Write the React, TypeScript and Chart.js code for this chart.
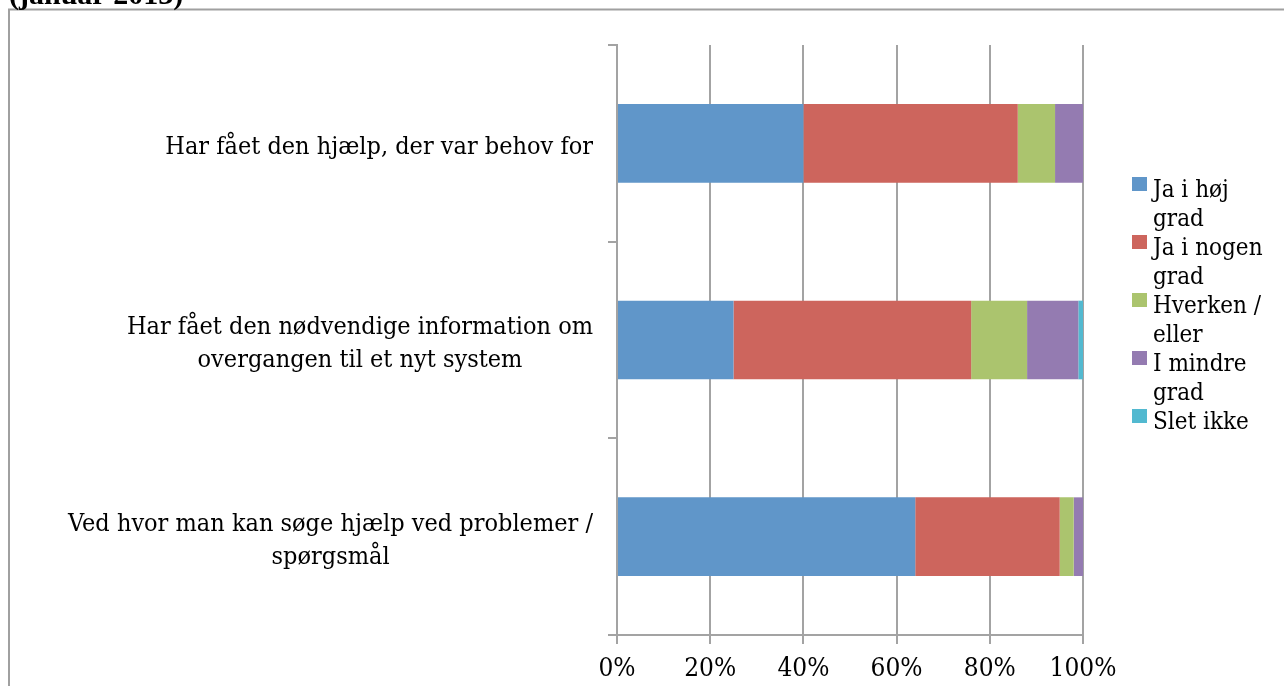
import React, { useEffect, useRef } from 'react';
import { Chart, registerables } from 'chart.js';

Chart.register(...registerables);

const titleText = '(januar 2013)';

const categories: string[][] = [
  ['Har fået den hjælp, der var behov for'],
  ['Har fået den nødvendige information om', 'overgangen til et nyt system'],
  ['Ved hvor man kan søge hjælp ved problemer /', 'spørgsmål'],
];

const seriesNames: string[][] = [
  ['Ja i høj', 'grad'],
  ['Ja i nogen', 'grad'],
  ['Hverken /', 'eller'],
  ['I mindre', 'grad'],
  ['Slet ikke'],
];

const jaIHoejGrad = [40, 25, 64];
const jaINogenGrad = [46, 51, 31];
const hverkenEller = [8, 12, 3];
const iMindreGrad = [6, 11, 2];
const sletIkke = [0, 1, 0];

const xTickLabels = ['0%', '20%', '40%', '60%', '80%', '100%'];

const seriesColors = ['#6096C9', '#CD655D', '#ABC46E', '#947BB1', '#52B9D0'];

const FONT = '"DejaVu Serif Condensed", "Liberation Serif", serif';
const TITLE_FONT = '"Liberation Serif", "Times New Roman", serif';
const GRID = '#a3a3a3';

export default function App() {
  const ref = useRef<HTMLCanvasElement | null>(null);

  useEffect(() => {
    if (!ref.current) return;
    const seriesValues = [jaIHoejGrad, jaINogenGrad, hverkenEller, iMindreGrad, sletIkke];

    const decorPlugin = {
      id: 'decor',
      beforeDraw(chart: any) {
        const ctx = chart.ctx;
        ctx.save();
        ctx.fillStyle = '#ffffff';
        ctx.fillRect(0, 0, chart.width, chart.height);
        ctx.strokeStyle = '#a0a0a0';
        ctx.lineWidth = 2;
        ctx.strokeRect(9, 9.5, chart.width + 20, chart.height + 20);
        ctx.fillStyle = '#000';
        ctx.font = `bold 30px ${TITLE_FONT}`;
        ctx.textBaseline = 'alphabetic';
        ctx.textAlign = 'left';
        ctx.fillText(titleText, 9, 4);
        ctx.restore();
      },
      afterDraw(chart: any) {
        const ctx = chart.ctx;
        const yScale = chart.scales.y;
        ctx.save();
        ctx.fillStyle = '#000';
        ctx.font = `25px ${FONT}`;
        ctx.textBaseline = 'alphabetic';
        ctx.textAlign = 'center';
        const rightEdge = 593;
        categories.forEach((lines, i) => {
          const cy = yScale.getPixelForValue(i);
          const maxW = Math.max(...lines.map((l) => ctx.measureText(l).width));
          const cx = rightEdge - maxW / 2;
          lines.forEach((line, j) => {
            const by = cy + 10.5 + (j - (lines.length - 1) / 2) * 33;
            ctx.fillText(line, cx, by);
          });
        });
        // legend
        ctx.font = `24px ${FONT}`;
        ctx.textAlign = 'left';
        let baseline = 197;
        seriesNames.forEach((lines, i) => {
          ctx.fillStyle = seriesColors[i];
          ctx.fillRect(1132, baseline - 20, 15, 14);
          ctx.fillStyle = '#000';
          lines.forEach((line, j) => {
            ctx.fillText(line, 1153, baseline + j * 29);
          });
          baseline += lines.length * 29;
        });
        ctx.restore();
      },
    };

    const chart = new Chart(ref.current, {
      type: 'bar',
      data: {
        labels: categories.map((c) => c.join(' ')),
        datasets: seriesNames.map((n, i) => ({
          label: n.join(' '),
          data: seriesValues[i],
          backgroundColor: seriesColors[i],
          borderWidth: 0,
          categoryPercentage: 1,
          barPercentage: 0.4,
        })),
      },
      options: {
        indexAxis: 'y',
        responsive: false,
        animation: false,
        devicePixelRatio: 1,
        layout: { padding: { left: 0, top: 45, right: 201, bottom: 0 } },
        plugins: {
          legend: { display: false },
          tooltip: { enabled: false },
          title: { display: false },
        },
        scales: {
          x: {
            stacked: true,
            min: 0,
            max: 100,
            ticks: {
              stepSize: 20,
              padding: 10,
              color: '#000',
              font: { family: FONT, size: 26 },
              callback: (_v: any, idx: number) => xTickLabels[idx],
            },
            grid: {
              color: GRID,
              lineWidth: 2,
              tickLength: 9,
              drawTicks: true,
            },
            border: { display: true, color: GRID, width: 2 },
            afterFit: (scale: any) => {
              scale.height = 51;
            },
          },
          y: {
            stacked: true,
            ticks: { display: false },
            grid: {
              offset: true,
              drawOnChartArea: false,
              drawTicks: true,
              tickLength: 9,
              color: GRID,
              lineWidth: 2,
            },
            border: { display: true, color: GRID, width: 2 },
            afterFit: (scale: any) => {
              scale.width = 617;
            },
          },
        },
      },
      plugins: [decorPlugin],
    } as any);

    return () => chart.destroy();
  }, []);

  return (
    <div style={{ position: 'absolute', left: 0, top: 0, width: 1284, height: 686 }}>
      <canvas ref={ref} width={1284} height={686} style={{ display: 'block' }} />
    </div>
  );
}
